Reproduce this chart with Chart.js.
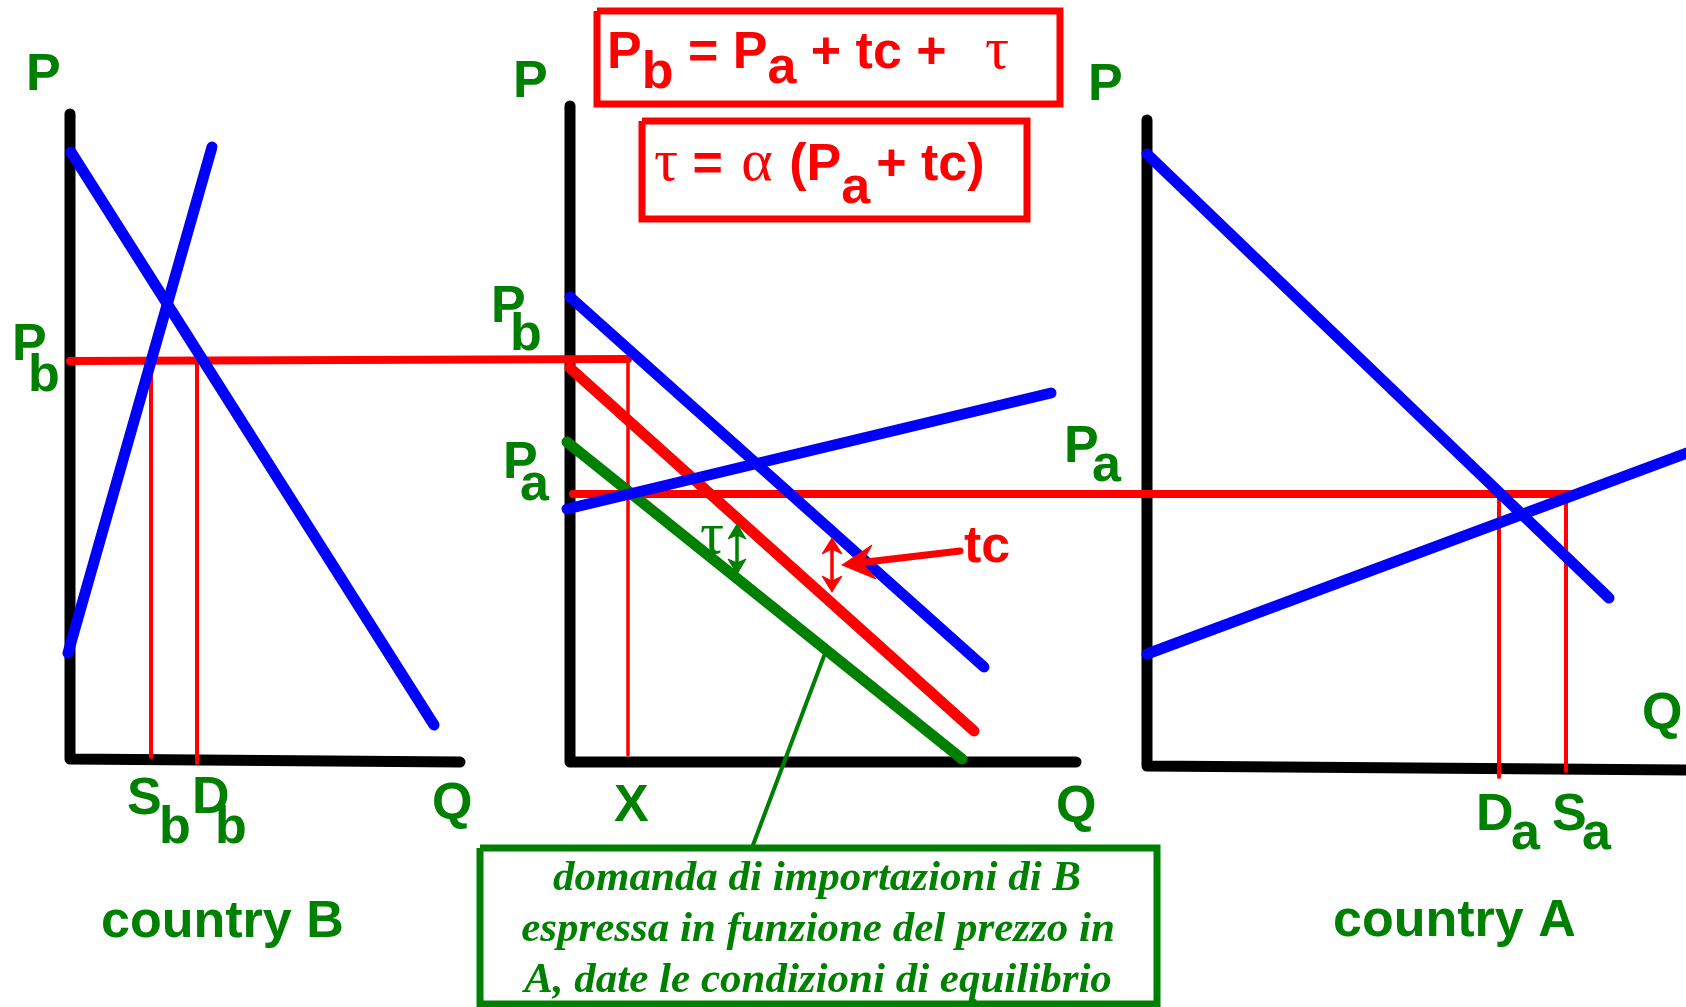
<!DOCTYPE html>
<html>
<head>
<meta charset="utf-8">
<title>Tariff and transport cost</title>
<script src="https://cdn.jsdelivr.net/npm/chart.js@4.4.0/dist/chart.umd.min.js"></script>
<style>
  html, body { margin: 0; padding: 0; background: #fff; }
  #wrap { width: 1686px; height: 1007px; }
</style>
</head>
<body>
<div id="wrap"><canvas id="chart" width="1686" height="1007"></canvas></div>
<script>
// values, in picture units (q to the right, p downward)
var axisB = [[70, 114], [70, 759], [460, 762]];
var axisMarket = [[570, 106], [570, 762], [1076, 762]];
var axisA = [[1147, 120], [1147, 766], [1690, 770]];

var demandB = [[71, 152], [434, 725]];
var supplyB = [[68, 653], [212, 147]];
var demandMarket = [[570, 297], [984, 667]];
var supplyMarket = [[567, 509], [1051, 393]];
var importDemandPb = [[570, 368], [974, 731]];
var importDemandPa = [[567, 442], [962, 759]];
var demandA = [[1147, 154], [1609, 598]];
var supplyA = [[1147, 654], [1690, 452]];

var priceB = [[70, 361], [628, 359]];
var priceA = [[573, 494], [1578, 494]];
var dropSb = [[151, 361], [151, 757]];
var dropDb = [[197, 361], [197, 763]];
var dropX = [[628, 359], [628, 755]];
var dropDa = [[1499, 494], [1499, 777]];
var dropSa = [[1566, 494], [1566, 771]];

var tauArrow = [[737, 530], [737, 568]];
var tauHeadUp = [[737, 524], [728, 539], [737, 535], [746, 539], [737, 524]];
var tauHeadDown = [[737, 574], [728, 559], [737, 563], [746, 559], [737, 574]];
var tcArrow = [[832, 545], [832, 585]];
var tcHeadUp = [[832, 538], [822, 554], [832, 549], [842, 554], [832, 538]];
var tcHeadDown = [[832, 592], [822, 576], [832, 581], [842, 576], [832, 592]];
var tcPointer = [[960, 551], [858, 563]];
var tcPointerHead = [[842, 565], [872, 545], [862, 563], [876, 579], [842, 565]];
var calloutLine = [[824, 656], [753, 845]];

var boxFormula1 = [[597, 11], [1060, 11], [1060, 104], [597, 104], [597, 11]];
var boxFormula2 = [[642, 121], [1027, 121], [1027, 219], [642, 219], [642, 121]];
var boxCallout = [[480, 848], [1157, 848], [1157, 1004], [480, 1004], [480, 848]];

var SANS = 'bold 52px "Liberation Sans", Arial, sans-serif';
var SERIF = 'normal 60px "Liberation Serif", "Times New Roman", serif';
var NOTE = 'italic bold 43px "Liberation Serif", "Times New Roman", serif';
var GREEN = '#008000', RED = '#ff0000', BLUE = '#0000ff', BLACK = '#000000';

var labels = [
    { text: 'P', x: 26, y: 90 },
    { text: 'P', x: 12, y: 360 }, { text: 'b', x: 28, y: 391 },
    { text: 'S', x: 127, y: 814 }, { text: 'b', x: 159, y: 843 },
    { text: 'D', x: 192, y: 813 }, { text: 'b', x: 215, y: 843 },
    { text: 'Q', x: 432, y: 819 },
    { text: 'country B', x: 101, y: 937 },
    { text: 'P', x: 513, y: 97 },
    { text: 'P', x: 491, y: 322 }, { text: 'b', x: 510, y: 350 },
    { text: 'P', x: 503, y: 478 }, { text: 'a', x: 520, y: 500 },
    { text: 'X', x: 614, y: 821 },
    { text: 'Q', x: 1056, y: 822 },
    { text: 'τ', x: 700, y: 553, font: SERIF },
    { text: 'tc', x: 964, y: 562, color: RED },
    { text: 'P', x: 1088, y: 100 },
    { text: 'P', x: 1064, y: 462 }, { text: 'a', x: 1092, y: 481 },
    { text: 'Q', x: 1642, y: 729 },
    { text: 'D', x: 1476, y: 830 }, { text: 'a', x: 1511, y: 849 },
    { text: 'S', x: 1552, y: 830 }, { text: 'a', x: 1582, y: 849 },
    { text: 'country A', x: 1333, y: 936 },
    { text: 'domanda di importazioni di B', x: 817, y: 890, font: NOTE, align: 'center' },
    { text: 'espressa in funzione del prezzo in', x: 818, y: 941, font: NOTE, align: 'center' },
    { text: 'A, date le condizioni di equilibrio', x: 818, y: 992, font: NOTE, align: 'center' }
];

var formulas = [
    { x: 607, y: 68, runs: [
        { t: 'P' }, { t: 'b', dy: 20 }, { t: ' = P' }, { t: 'a', dy: 15 },
        { t: ' + tc + ' }, { t: 'τ', font: SERIF, dx: 24 }
    ] },
    { x: 654, y: 180, runs: [
        { t: 'τ', font: SERIF }, { t: ' = ' }, { t: 'α', font: SERIF, dx: 4 }, { t: ' (P', dx: 2 },
        { t: 'a', dy: 23 }, { t: '+ tc)', dx: 6 }
    ] }
];

function pts(list) {
    return list.map(function(p) { return { x: p[0], y: p[1] }; });
}

// bottom to top
var layers = [
    [axisB, BLACK, 11], [axisMarket, BLACK, 11], [axisA, BLACK, 11],
    [dropSb, RED, 4], [dropDb, RED, 4], [dropX, RED, 3.5], [dropDa, RED, 4], [dropSa, RED, 4],
    [priceB, RED, 8], [priceA, RED, 8],
    [importDemandPa, GREEN, 11], [importDemandPb, RED, 11],
    [demandB, BLUE, 11], [supplyB, BLUE, 11],
    [demandMarket, BLUE, 11], [supplyMarket, BLUE, 11],
    [demandA, BLUE, 11], [supplyA, BLUE, 11],
    [calloutLine, GREEN, 4],
    [tauArrow, GREEN, 3.5], [tauHeadUp, GREEN, 1, true], [tauHeadDown, GREEN, 1, true],
    [tcArrow, RED, 3.5], [tcHeadUp, RED, 1, true], [tcHeadDown, RED, 1, true],
    [tcPointer, RED, 7], [tcPointerHead, RED, 1, true],
    [boxFormula1, RED, 7, false, 'miter'], [boxFormula2, RED, 7, false, 'miter'],
    [boxCallout, GREEN, 7, false, 'miter']
];

var datasets = layers.map(function(l, i) {
    return {
        data: pts(l[0]),
        showLine: true,
        borderColor: l[1],
        backgroundColor: l[1],
        borderWidth: l[2],
        fill: l[3] ? 'shape' : false,
        borderCapStyle: l[4] ? 'butt' : 'round',
        borderJoinStyle: l[4] || 'round',
        pointRadius: 0,
        pointHoverRadius: 0,
        tension: 0,
        order: layers.length - i
    };
});

var textPlugin = {
    id: 'texts',
    afterDatasetsDraw: function(chart) {
        var ctx = chart.ctx;
        var sx = chart.scales.x, sy = chart.scales.y;
        ctx.save();
        ctx.textBaseline = 'alphabetic';
        labels.forEach(function(l) {
            ctx.font = l.font || SANS;
            ctx.fillStyle = l.color || GREEN;
            ctx.textAlign = l.align || 'left';
            ctx.fillText(l.text, sx.getPixelForValue(l.x), sy.getPixelForValue(l.y));
        });
        ctx.textAlign = 'left';
        ctx.fillStyle = RED;
        formulas.forEach(function(f) {
            var x = sx.getPixelForValue(f.x), y = sy.getPixelForValue(f.y);
            f.runs.forEach(function(r) {
                ctx.font = r.font || SANS;
                x += r.dx || 0;
                ctx.fillText(r.t, x, y + (r.dy || 0));
                x += ctx.measureText(r.t).width;
            });
        });
        ctx.restore();
    }
};

new Chart(document.getElementById('chart'), {
    type: 'scatter',
    data: { datasets: datasets },
    options: {
        responsive: false,
        devicePixelRatio: 1,
        animation: false,
        events: [],
        layout: { padding: 0 },
        plugins: { legend: { display: false }, tooltip: { enabled: false } },
        scales: {
            x: { type: 'linear', min: 0, max: 1686, display: false },
            y: { type: 'linear', min: 0, max: 1007, reverse: true, display: false }
        }
    },
    plugins: [textPlugin]
});
</script>
</body>
</html>
